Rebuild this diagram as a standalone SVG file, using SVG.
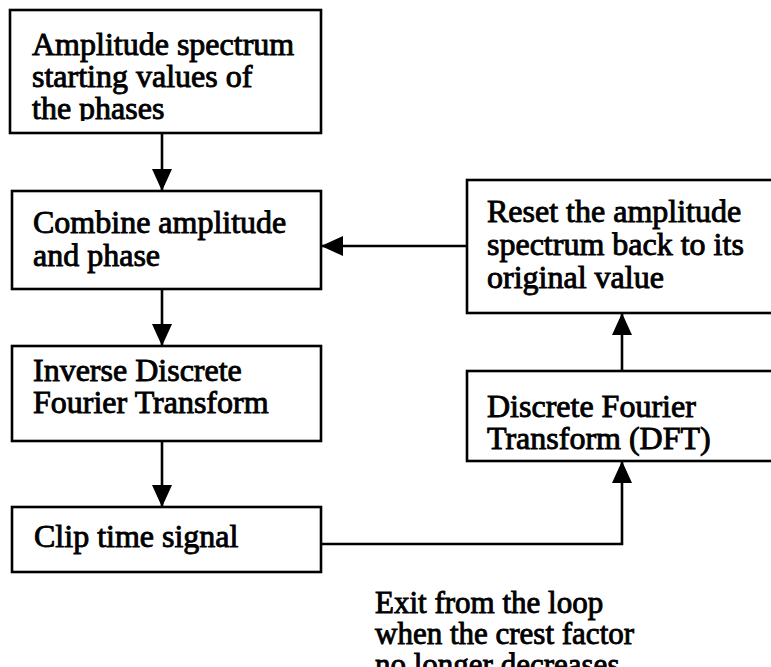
<svg xmlns="http://www.w3.org/2000/svg" width="771" height="667" viewBox="0 0 771 667">
  <style>
    .box { fill: #fff; stroke: #000; stroke-width: 2.6; }
    .lbl { font-family: "Liberation Serif", "Times New Roman", serif; font-size: 32px; fill: #000; stroke: #000; stroke-width: 0.9; }
    .note { font-size: 31px; }
    .wire { fill: none; stroke: #000; stroke-width: 2.6; }
  </style>
  <defs>
    <marker id="head" viewBox="0 0 22 20" refX="22" refY="10" markerWidth="22" markerHeight="20" markerUnits="userSpaceOnUse" orient="auto">
      <path d="M0,0 L22,10 L0,20 Z" fill="#000"/>
    </marker>
    <clipPath id="clipFirst">
      <rect x="10" y="10" width="311" height="111"/>
    </clipPath>
  </defs>
  <rect width="771" height="667" fill="#fff"/>

  <g id="connectors">
    <line class="wire" x1="162" y1="133" x2="162" y2="191" marker-end="url(#head)"/>
    <line class="wire" x1="162" y1="289" x2="162" y2="346" marker-end="url(#head)"/>
    <line class="wire" x1="162" y1="441" x2="162" y2="507" marker-end="url(#head)"/>
    <polyline class="wire" points="321,544 622,544 622,461" marker-end="url(#head)"/>
    <line class="wire" x1="622" y1="371" x2="622" y2="313" marker-end="url(#head)"/>
    <line class="wire" x1="467" y1="246" x2="321" y2="246" marker-end="url(#head)"/>
  </g>

  <g id="start">
    <rect class="box" x="10" y="10" width="311" height="123"/>
    <g clip-path="url(#clipFirst)">
      <text class="lbl" x="32" y="55">Amplitude spectrum</text>
      <text class="lbl" x="32" y="87">starting values of</text>
      <text class="lbl" x="32" y="119">the phases</text>
    </g>
  </g>

  <g id="combine">
    <rect class="box" x="12" y="191" width="309" height="98"/>
    <text class="lbl" x="33" y="233">Combine amplitude</text>
    <text class="lbl" x="33" y="266">and phase</text>
  </g>

  <g id="idft">
    <rect class="box" x="12" y="346" width="309" height="95"/>
    <text class="lbl" x="33" y="381">Inverse Discrete</text>
    <text class="lbl" x="33" y="413">Fourier Transform</text>
  </g>

  <g id="clip">
    <rect class="box" x="12" y="507" width="309" height="65"/>
    <text class="lbl" x="34" y="547">Clip time signal</text>
  </g>

  <g id="dft">
    <rect class="box" x="467" y="371" width="340" height="90"/>
    <text class="lbl" x="487" y="417">Discrete Fourier</text>
    <text class="lbl" x="487" y="449">Transform (DFT)</text>
  </g>

  <g id="reset">
    <rect class="box" x="467" y="180" width="340" height="133"/>
    <text class="lbl" x="487" y="222">Reset the amplitude</text>
    <text class="lbl" x="487" y="255">spectrum back to its</text>
    <text class="lbl" x="487" y="288">original value</text>
  </g>

  <g id="exit-note">
    <text class="lbl note" x="375" y="613">Exit from the loop</text>
    <text class="lbl note" x="375" y="644">when the crest factor</text>
    <text class="lbl note" x="375" y="675">no longer decreases</text>
  </g>
</svg>
